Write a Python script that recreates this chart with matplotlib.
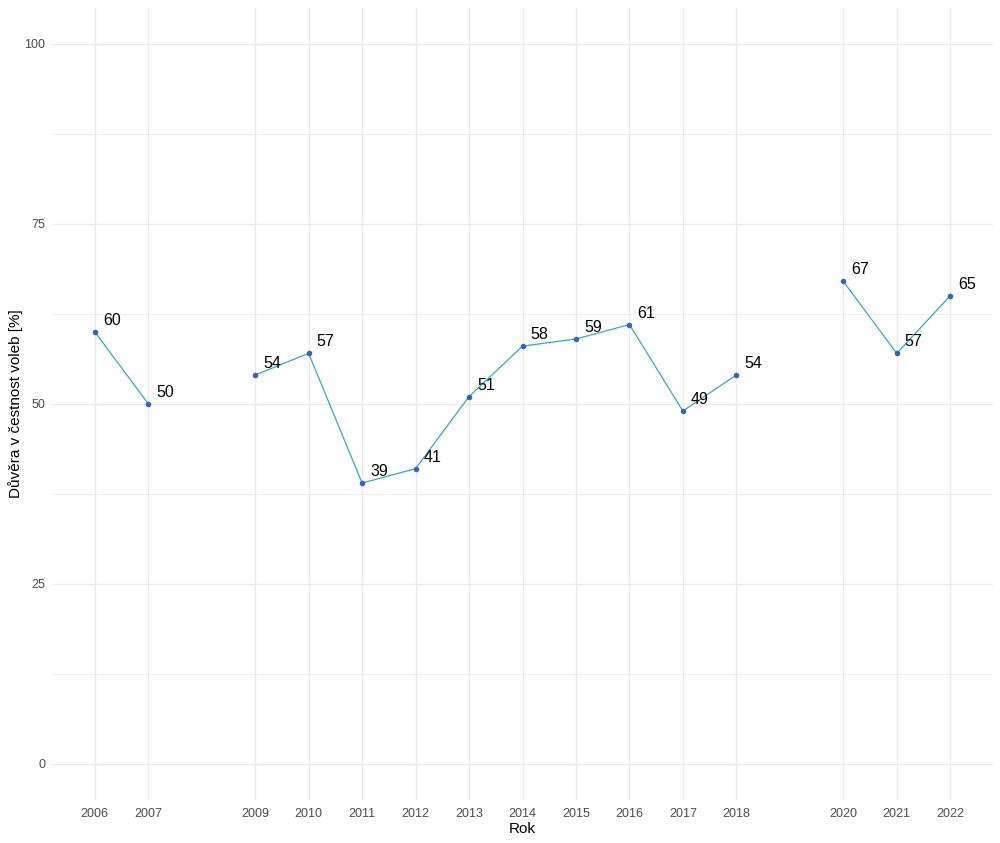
import matplotlib
matplotlib.use("Agg")
import matplotlib.pyplot as plt
import numpy as np

years = [2006, 2007, 2009, 2010, 2011, 2012, 2013, 2014, 2015, 2016, 2017, 2018, 2020, 2021, 2022]
values = [60, 50, 54, 57, 39, 41, 51, 58, 59, 61, 49, 54, 67, 57, 65]
y_ticks = [0, 25, 50, 75, 100]

plt.rcParams['font.family'] = ['Liberation Sans', 'DejaVu Sans']

fig = plt.figure(figsize=(10, 8.43), dpi=100)
ax = fig.add_axes([0.052, 0.051, 0.941, 0.940])

# segments broken at missing years
segs = []
cur = [0]
for i in range(1, len(years)):
    if years[i] - years[i-1] == 1:
        cur.append(i)
    else:
        segs.append(cur)
        cur = [i]
segs.append(cur)
for s in segs:
    ax.plot([years[i] for i in s], [values[i] for i in s], color='#35A8C8', lw=0.9, zorder=3)
ax.scatter(years, values, s=16, color='#3366BB', zorder=4, linewidths=0)

for x, y in zip(years, values):
    ax.annotate(str(y), (x, y), xytext=(8, 4), textcoords='offset pixels',
                fontsize=11.5, color='black', ha='left', va='bottom', zorder=5)

ax.set_xlim(2005.2, 2022.8)
ax.set_ylim(-5, 105)
ax.set_xticks(years)
ax.set_xticklabels([str(y) for y in years])
ax.set_yticks(y_ticks)
ax.set_yticks([12.5, 37.5, 62.5, 87.5], minor=True)
ax.grid(which='major', color='#EBEBEB', lw=1.0)
ax.grid(which='minor', axis='y', color='#EBEBEB', lw=0.6)
ax.set_axisbelow(True)
for sp in ax.spines.values():
    sp.set_visible(False)
ax.tick_params(which='both', length=0, labelsize=9, colors='#4D4D4D')
ax.tick_params(axis='y', pad=5)
ax.tick_params(axis='x', pad=6)
ax.set_xlabel('Rok', fontsize=11, color='black', labelpad=1)
ax.set_ylabel('Důvěra v čestnost voleb [%]', fontsize=11, color='black')
ax.yaxis.set_label_coords(-0.031, 0.5)

fig.savefig('out.png', dpi=100, facecolor='white')
